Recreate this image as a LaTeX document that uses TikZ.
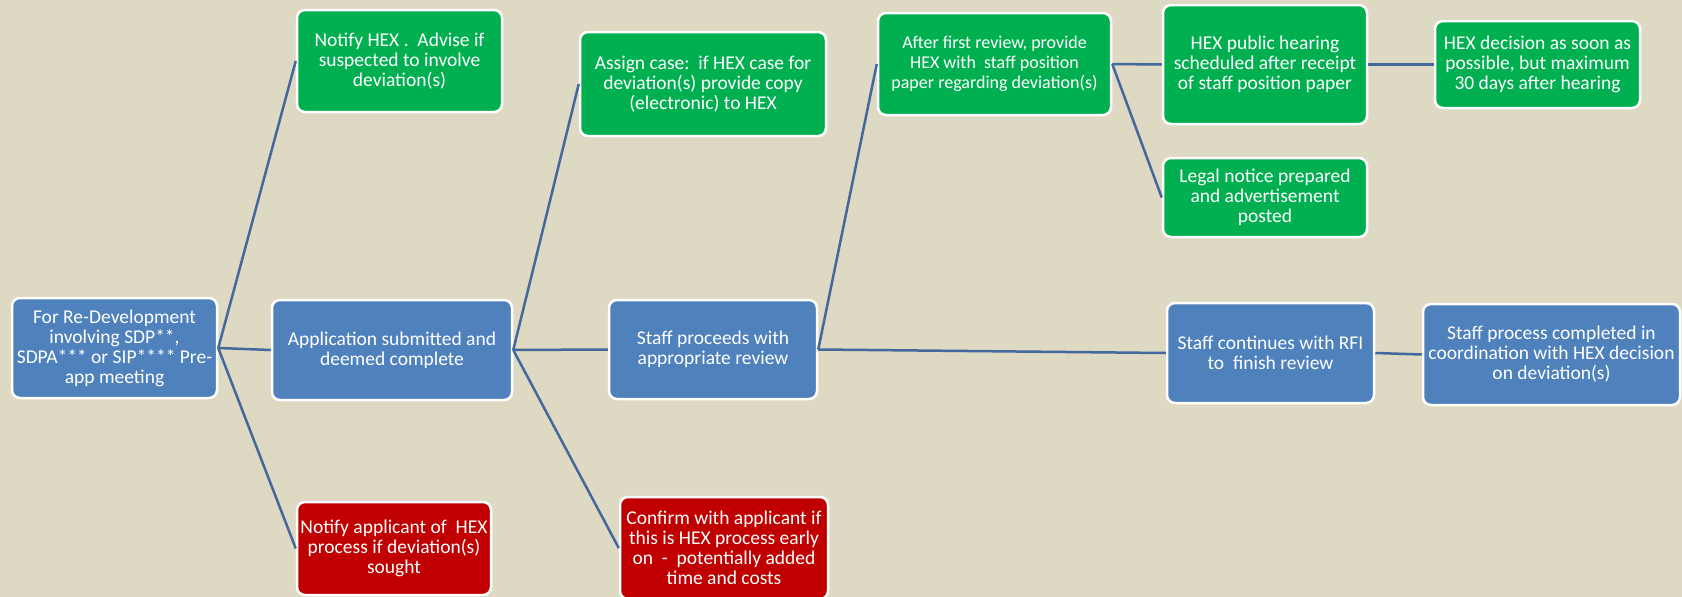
\documentclass[tikz,border=0pt]{standalone}
\usepackage{fontspec}
\setmainfont{Carlito}
\usepackage{tikz}
\definecolor{paper}{RGB}{221,217,195}
\definecolor{boxblue}{RGB}{79,129,189}
\definecolor{boxgreen}{RGB}{0,176,80}
\definecolor{boxred}{RGB}{192,0,0}
\definecolor{link}{RGB}{68,104,158}

\begin{document}
\begin{tikzpicture}[x=1pt, y=-1pt,
	stage/.style={draw=white, line width=2.5pt, rounded corners=8pt, text=white,
		align=center, inner sep=2pt, font=\fontsize{19.5}{20}\selectfont},
	blu/.style={stage, fill=boxblue},
	grn/.style={stage, fill=boxgreen},
	rd/.style={stage, fill=boxred},
	tie/.style={link, line width=2.5pt}]
		%% Page is 1682 x 597, one unit per pixel
		\fill[paper] (0,0) rectangle (1682,597);
		\useasboundingbox (0,0) rectangle (1682,597);

		%% First column
		\node[blu, minimum width=205, minimum height=100] (start) at (114.5,348)
		{For Re-Development\\ involving SDP**,\\ SDPA*** or SIP**** Pre-\\ app meeting};

		%% Second column
		\node[grn, minimum width=205, minimum height=102] (notifyhex) at (399.5,61)
		{Notify HEX .\ \ Advise if\\ suspected to involve\\ deviation(s)};
		\node[blu, minimum width=240, minimum height=100] (submitted) at (392,350)
		{Application submitted and\\ deemed complete};
		\node[rd, minimum width=194, minimum height=93] (notifyapp) at (394,548.5)
		{Notify applicant of\ \ HEX\\ process if deviation(s)\\ sought};

		%% Third column
		\node[grn, minimum width=246, minimum height=104] (assign) at (703,84)
		{Assign case:\ \ if HEX case for\\ deviation(s) provide copy\\ (electronic) to HEX};
		\node[blu, minimum width=208, minimum height=99] (proceeds) at (713,349.5)
		{Staff proceeds with\\ appropriate review};
		\node[rd, minimum width=208, minimum height=102] (confirm) at (724,548)
		{Confirm with applicant if\\ this is HEX process early\\ on\ \ -\ \ potentially added\\ time and costs};

		%% Fourth column (narrow lettering in the original)
		\node[grn, minimum width=233, minimum height=102, font=\fontsize{18}{20}\selectfont] (review) at (994.5,64)
		{After first review, provide\\ HEX with\ \ staff position\\ paper regarding deviation(s)};

		%% Fifth column
		\node[grn, minimum width=204, minimum height=119] (hearing) at (1265,64.5)
		{HEX public hearing\\ scheduled after receipt\\ of staff position paper};
		\node[grn, minimum width=204, minimum height=79] (legal) at (1265,197.5)
		{Legal notice prepared\\ and advertisement\\ posted};
		\node[blu, minimum width=207, minimum height=100] (continues) at (1270.5,353)
		{Staff continues with RFI\\ to\ \ finish review};

		%% Last column
		\node[grn, minimum width=205, minimum height=87] (decision) at (1537.5,64.5)
		{HEX decision as soon as\\ possible, but maximum\\ 30 days after hearing};
		\node[blu, minimum width=257, minimum height=101] (completed) at (1551.5,354.5)
		{Staff process completed in\\ coordination with HEX decision\\ on deviation(s)};

		% Connectors
		\draw[tie] (start.east) -- (notifyhex.west);
		\draw[tie] (start.east) -- (submitted.west);
		\draw[tie] (start.east) -- (notifyapp.west);
		\draw[tie] (submitted.east) -- (assign.west);
		\draw[tie] (submitted.east) -- (proceeds.west);
		\draw[tie] (submitted.east) -- (confirm.west);
		\draw[tie] (proceeds.east) -- (review.west);
		\draw[tie] (proceeds.east) -- (continues.west);
		\draw[tie] (review.east) -- (hearing.west);
		\draw[tie] (review.east) -- (legal.west);
		\draw[tie] (hearing.east) -- (decision.west);
		\draw[tie] (continues.east) -- (completed.west);
	\end{tikzpicture}
\end{document}
